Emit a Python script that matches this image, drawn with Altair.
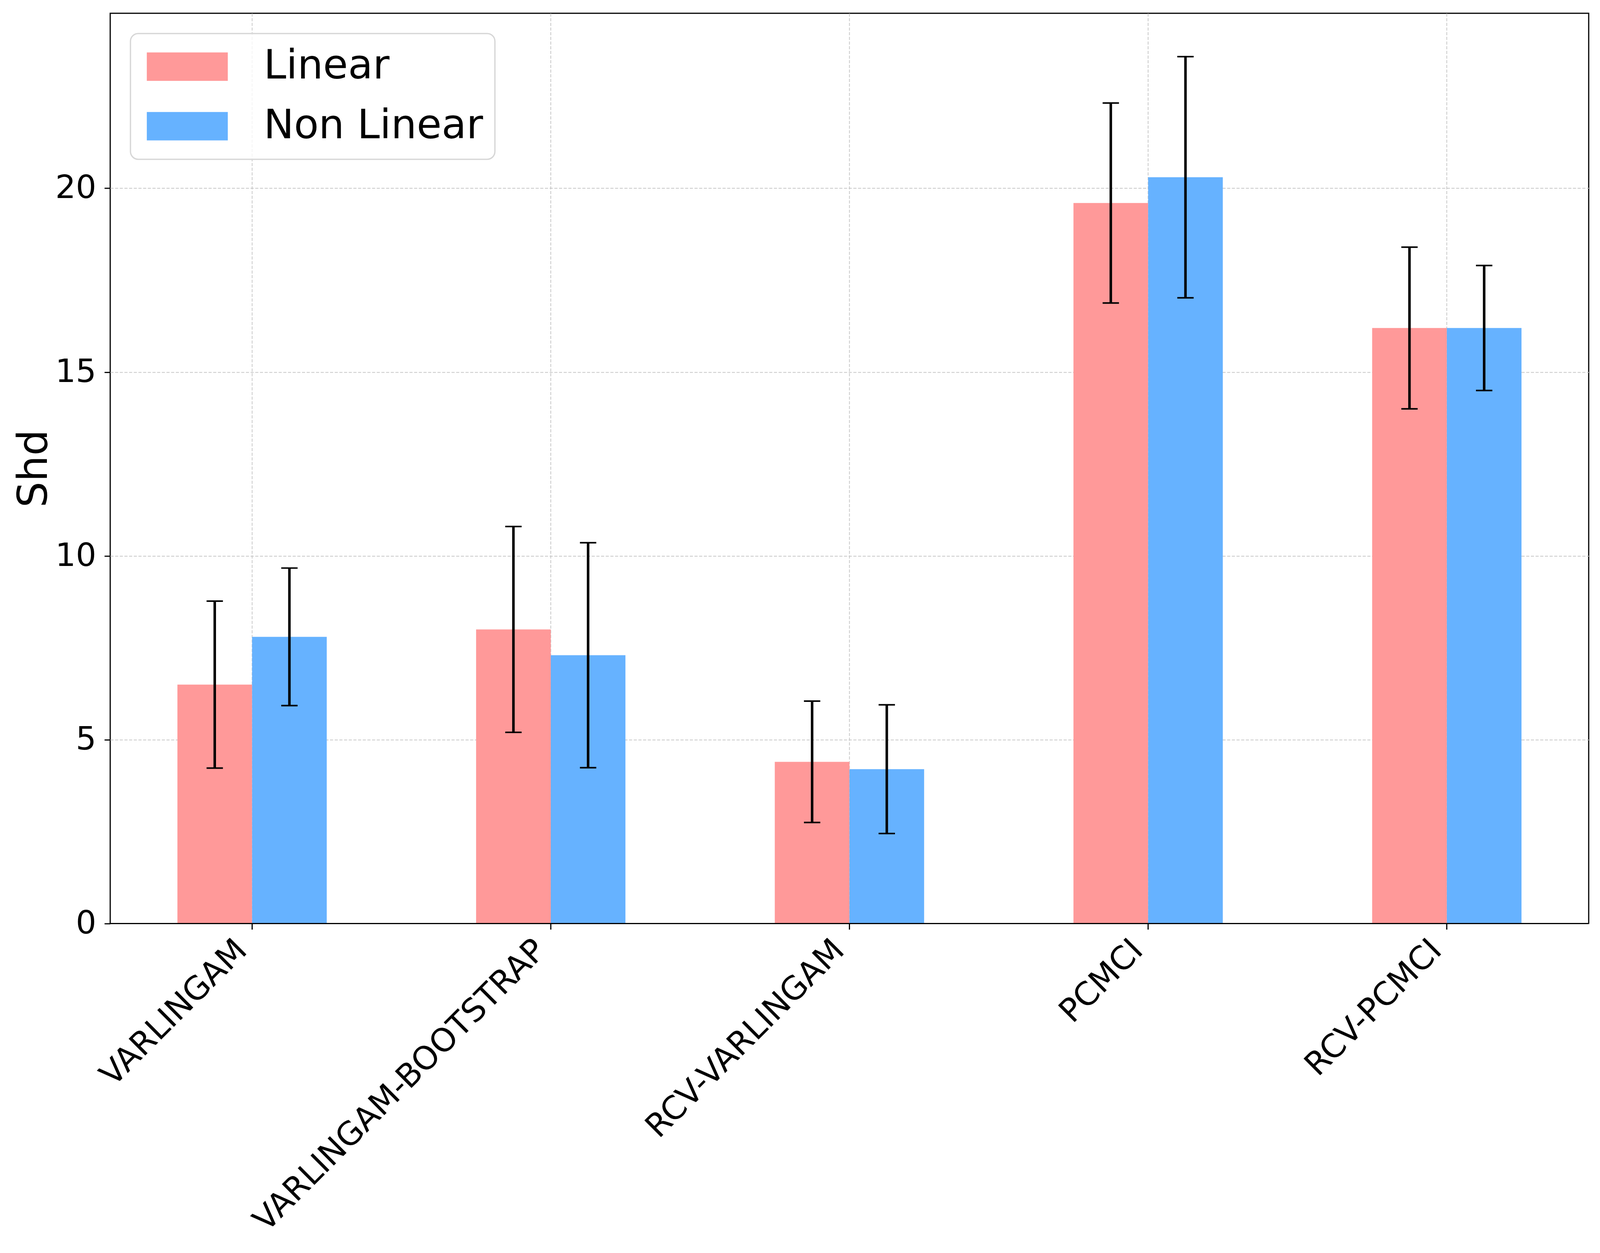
import altair as alt
import pandas as pd

methods = ["VARLINGAM", "VARLINGAM-BOOTSTRAP", "RCV-VARLINGAM", "PCMCI", "RCV-PCMCI"]
series = ["Linear", "Non Linear"]
linear_mean = [6.5, 8.0, 4.4, 19.6, 16.2]
linear_std = [2.27, 2.8, 1.65, 2.72, 2.2]
nonlinear_mean = [7.8, 7.3, 4.2, 20.3, 16.2]
nonlinear_std = [1.87, 3.06, 1.75, 3.28, 1.7]
colors = ["#FF9999", "#66B2FF"]
y_ticks = [0, 5, 10, 15, 20]
baseline_value = [0]

rows = []
for i, m in enumerate(methods):
    rows.append({"method": m, "series": series[0], "mean": linear_mean[i], "std": linear_std[i]})
    rows.append({"method": m, "series": series[1], "mean": nonlinear_mean[i], "std": nonlinear_std[i]})
df = pd.DataFrame(rows)
df["lo"] = df["mean"] - df["std"]
df["hi"] = df["mean"] + df["std"]
base_df = pd.DataFrame({"v": baseline_value})

FONT = "DejaVu Sans"
GRID = "#c8c8c8"

x_enc = alt.X(
    "method:N", sort=methods, title=None,
    scale=alt.Scale(paddingInner=0.5, paddingOuter=0.225),
    axis=alt.Axis(
        labelAngle=315, labelAlign="right", labelBaseline="alphabetic",
        labelFontSize=83, labelFont=FONT, labelColor="black",
        labelPadding=58, labelOffset=-9, labelLimit=2000,
        tickSize=15, tickWidth=3, tickColor="black", domain=False,
        grid=True, gridDash=[8, 4], gridColor=GRID, gridWidth=2,
        bandPosition=0.5,
    ),
)
xoff = alt.XOffset("series:N", sort=series, scale=alt.Scale(paddingInner=0, paddingOuter=0))
y_scale = alt.Scale(domain=[0, 24.76], nice=False, zero=True)
y_axis = alt.Axis(
    values=y_ticks, title="Shd", titleFontSize=105, titleFont=FONT,
    titleFontWeight="normal", titleColor="black", titlePadding=0,
    labelFontSize=83, labelFont=FONT, labelColor="black", labelPadding=21,
    tickSize=15, tickWidth=3, tickColor="black", domain=False,
    grid=True, gridDash=[8, 4], gridColor=GRID, gridWidth=2,
)

legend = alt.Legend(
    title=None, orient="none", legendX=52, legendY=52,
    symbolType="M-1,-0.351L1,-0.351L1,0.351L-1,0.351Z",
    symbolSize=43264, symbolStrokeWidth=0, symbolOpacity=1, symbolOffset=12,
    clipHeight=110, rowPadding=43,
    labelFontSize=104, labelFont=FONT, labelColor="black",
    labelOffset=92, labelLimit=2000,
    padding=30, cornerRadius=20, strokeColor="#d6d6d6",
    fillColor="rgba(255,255,255,0.8)",
)

bars = alt.Chart(df).mark_bar().encode(
    x=x_enc,
    xOffset=xoff,
    y=alt.Y("mean:Q", scale=y_scale, axis=y_axis),
    color=alt.Color("series:N", scale=alt.Scale(domain=series, range=colors), legend=legend),
)

rules = alt.Chart(df).mark_rule(color="black", strokeWidth=6.5).encode(
    x=x_enc, xOffset=xoff,
    y=alt.Y("lo:Q", scale=y_scale, axis=y_axis),
    y2="hi:Q",
)

caps_lo = alt.Chart(df).mark_tick(color="black", thickness=4, size=42, opacity=1).encode(
    x=x_enc, xOffset=xoff, y=alt.Y("lo:Q", scale=y_scale, axis=y_axis),
)
caps_hi = alt.Chart(df).mark_tick(color="black", thickness=4, size=42, opacity=1).encode(
    x=x_enc, xOffset=xoff, y=alt.Y("hi:Q", scale=y_scale, axis=y_axis),
)

bottom_spine = alt.Chart(base_df).mark_rule(color="black", strokeWidth=3).encode(
    y=alt.Y("v:Q", scale=y_scale, axis=y_axis),
)

chart = alt.layer(bars, rules, caps_lo, caps_hi, bottom_spine).properties(
    width=3797, height=2338,
    autosize=alt.AutoSizeParams(type="none"),
    padding={"left": 275, "top": 21, "right": 21, "bottom": 833},
    background="white",
).configure_view(stroke="black", strokeWidth=3).configure_legend(strokeWidth=3.3)

chart.save("out.html", embed_options={"renderer": "svg", "actions": False})
